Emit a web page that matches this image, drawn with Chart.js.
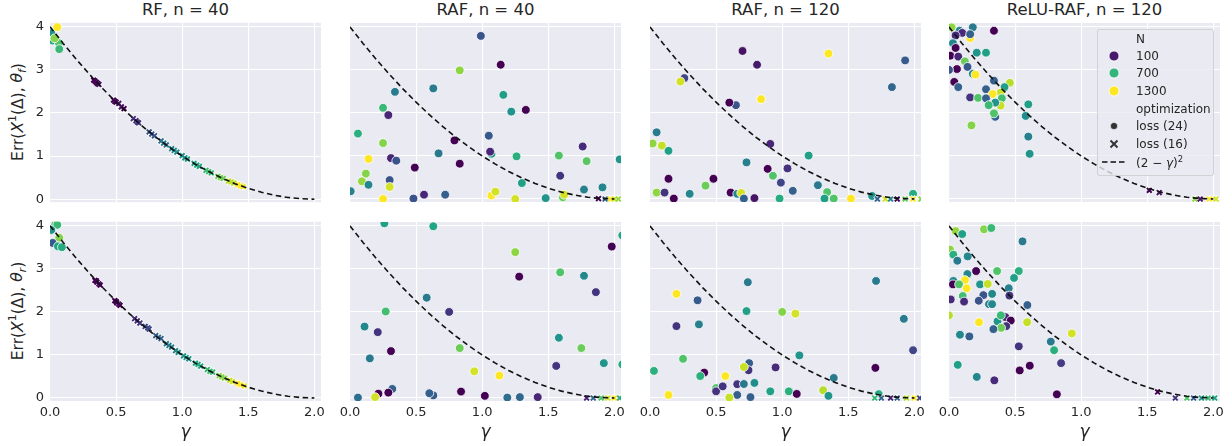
<!DOCTYPE html>
<html>
<head>
<meta charset="utf-8">
<script src="https://cdn.jsdelivr.net/npm/chart.js@4.4.1/dist/chart.umd.min.js"></script>
<style>
  body { margin: 0; width: 1232px; height: 446px; overflow: hidden; position: relative; background: #fff;
         font-family: "DejaVu Sans", sans-serif; color: #262626; }
  canvas { position: absolute; }
  .ttl { position: absolute; top: 0px; width: 271px; text-align: center; font-size: 16.5px; white-space: nowrap; }
  .ylab { position: absolute; font-size: 15.5px; white-space: nowrap; transform: translate(-50%, -50%) rotate(-90deg); }
  .ylab sup, .ylab sub { font-size: 70%; }
  #legend { position: absolute; left: 1097px; top: 29px; width: 117px; height: 147px; box-sizing: border-box;
            background: rgba(234, 234, 242, 0.8); border: 1px solid rgba(204, 204, 204, 0.8); border-radius: 3px; }
  .lt { position: absolute; font-size: 12px; white-space: nowrap; transform: translateY(-50%); }
  .lm { position: absolute; line-height: 0; }
  .lm svg { display: block; }
</style>
</head>
<body>

<div class="ttl" style="left:50px">RF, n = 40</div>
<div class="ttl" style="left:350px">RAF, n = 40</div>
<div class="ttl" style="left:650px">RAF, n = 120</div>
<div class="ttl" style="left:949px">ReLU-RAF, n = 120</div>

<div class="ylab" style="left:18px; top:112px">Err(<i>X</i><sup>1</sup>(Δ), <i>θ<sub>f</sub></i>)</div>
<div class="ylab" style="left:18px; top:311px">Err(<i>X</i><sup>1</sup>(Δ), <i>θ<sub>r</sub></i>)</div>

<script>
// (2 - gamma)^2 reference curve, tabulated
const gammaCurve = [0, 0.1, 0.2, 0.3, 0.4, 0.5, 0.6, 0.7, 0.8, 0.9, 1.0, 1.1, 1.2, 1.3, 1.4, 1.5, 1.6, 1.7, 1.8, 1.9, 2.0];
const errCurve = [4.00, 3.61, 3.24, 2.89, 2.56, 2.25, 1.96, 1.69, 1.44, 1.21, 1.00, 0.81, 0.64, 0.49, 0.36, 0.25, 0.16, 0.09, 0.04, 0.01, 0.00];

const xTicks = [0, 0.5, 1.0, 1.5, 2.0];
const yTicks = [0, 1, 2, 3, 4];
const legendN = [100, 700, 1300];

// points: [gamma, err, N]
// ---- top row: theta_f ----
const rfF_loss24 = [[0.01,3.85,500],[0.02,3.68,600],[0.068,3.62,800],[0.07,3.48,720],[0.035,3.73,950],[0.055,3.99,1300]];
const rfF_loss16 = [
  [0.33,2.76,65],[0.34,2.74,65],[0.35,2.71,65],[0.36,2.68,65],[0.37,2.66,90],
  [0.48,2.30,65],[0.49,2.27,65],[0.50,2.25,65],[0.52,2.22,90],[0.54,2.14,90],[0.56,2.10,65],
  [0.63,1.87,150],[0.65,1.82,130],[0.66,1.79,170],[0.67,1.77,150],
  [0.75,1.56,230],[0.77,1.51,250],[0.79,1.47,230],
  [0.84,1.35,330],[0.86,1.30,370],[0.88,1.26,330],
  [0.92,1.17,430],[0.94,1.13,440],[0.96,1.09,470],
  [1.00,1.01,500],[1.02,0.96,500],[1.04,0.93,530],
  [1.09,0.83,600],[1.11,0.79,640],[1.13,0.76,600],
  [1.18,0.67,720],[1.20,0.64,760],[1.22,0.61,720],
  [1.27,0.53,880],[1.29,0.50,950],[1.31,0.48,880],
  [1.35,0.42,1080],[1.37,0.40,1130],[1.39,0.37,1080],
  [1.42,0.34,1300],[1.44,0.31,1300],[1.46,0.29,1250]];

const raf40F_loss24 = [[0.99,3.79,230],[1.14,3.12,65],[0.83,2.99,980],[0.34,2.49,380],[0.63,2.57,380],[1.16,2.42,560],
  [1.22,2.03,500],[1.33,2.07,65],[0.25,2.12,720],[0.29,1.95,120],[0.06,1.52,660],[0.25,1.30,950],[0.79,1.36,65],
  [1.05,1.47,250],[1.07,1.05,550],[1.06,1.10,120],[0.67,1.06,370],[1.26,0.99,660],[1.58,1.01,800],[1.76,1.22,130],
  [1.79,0.88,830],[0.14,0.93,1300],[0.31,0.95,120],[0.35,0.89,230],[0.83,0.82,65],[0.49,0.73,65],[0.12,0.59,950],
  [0.09,0.41,1000],[0.14,0.33,440],[0.30,0.44,230],[0.30,0.28,1170],[1.59,0.54,150],[1.30,0.37,570],[0.005,0.18,400],
  [1.77,0.22,400],[1.91,0.27,430],[2.04,0.92,500],[0.56,0.10,120],[0.72,0.10,270],[0.48,0.01,230],[0.25,0.00,1300],
  [1.07,0.08,1300],[1.10,0.17,1170],[1.25,0.00,1170],[1.48,0.02,500],[1.61,0.04,880],[1.62,0.10,1170]];
const raf40F_loss16 = [[1.88,0.01,65],[1.93,0.0,300],[1.97,0.0,1300],[2.0,0.0,1170],[2.03,0.0,1000]];

const raf120F_loss24 = [[0.70,3.44,90],[0.81,3.12,100],[1.35,3.38,1300],[1.93,3.22,250],[1.83,2.60,300],[0.26,2.81,190],
  [0.23,2.73,1170],[0.84,2.32,1300],[0.65,2.18,230],[0.60,2.24,65],[0.05,1.55,380],[0.02,1.29,980],[0.09,1.24,1130],
  [0.14,1.12,570],[0.91,1.28,120],[1.20,1.01,570],[0.73,0.85,400],[0.89,0.70,65],[1.04,0.71,150],[0.93,0.54,800],
  [0.14,0.47,65],[0.48,0.47,65],[0.42,0.31,880],[0.99,0.38,190],[1.27,0.32,380],[1.08,0.19,270],[1.34,0.16,800],
  [0.05,0.15,980],[0.11,0.15,150],[0.30,0.12,440],[0.61,0.15,65],[0.66,0.12,440],[0.69,0.14,1170],[0.71,0.01,270],
  [0.79,0.02,90],[0.18,0.01,65],[0.98,0.01,640],[1.32,0.01,570],[1.39,0.01,800],[1.52,0.01,1300],[1.68,0.07,500],
  [1.99,0.12,640]];
const raf120F_loss16 = [[1.72,0.0,270],[1.78,0.0,1170],[1.82,0.0,440],[1.87,0.0,65],[1.93,0.0,880],[1.99,0.0,1300],[2.05,0.0,980]];

const reluF_loss24 = [[0.34,3.91,65],[0.18,3.99,380],[0.02,3.99,980],[0.08,3.91,440],[0.16,3.74,1300],[0.10,3.86,130],
  [0.16,3.83,270],[0.05,3.80,130],[0.03,3.62,440],[0.21,3.40,500],[0.28,3.40,570],[0.05,3.51,65],[0.01,3.33,65],
  [0.07,3.31,120],[0.12,3.20,880],[0.14,3.07,250],[0.06,3.02,65],[0.0,3.0,230],[0.18,2.91,440],[0.20,2.89,1300],
  [0.04,2.72,65],[0.07,2.60,270],[0.34,2.75,270],[0.46,2.70,1080],[0.42,2.60,570],[0.28,2.55,270],[0.39,2.47,1130],
  [0.33,2.44,1300],[0.16,2.36,150],[0.22,2.35,800],[0.28,2.34,270],[0.40,2.34,760],[0.39,2.17,1130],[0.35,2.24,500],
  [0.30,2.18,720],[0.35,1.91,270],[0.34,1.99,800],[0.17,1.71,950],[0.60,2.20,570],[0.58,1.93,470],[0.60,1.45,400],
  [0.61,1.05,500]];
const reluF_loss16 = [[1.515,0.20,65],[1.59,0.15,90],[1.86,0.0,980],[1.90,0.0,90],[1.97,0.0,1300],[2.02,0.0,1170]];

// ---- bottom row: theta_r ----
const rfR_loss24 = [[0.04,4.03,800],[0.055,4.02,720],[0.01,3.90,500],[0.07,3.72,950],[0.02,3.60,250],[0.06,3.52,600],[0.09,3.50,640]];
const rfR_loss16 = [
  [0.34,2.73,65],[0.35,2.72,65],[0.355,2.69,65],[0.37,2.65,90],[0.38,2.62,65],
  [0.49,2.26,65],[0.50,2.24,65],[0.505,2.21,65],[0.52,2.18,90],[0.53,2.15,65],
  [0.64,1.84,150],[0.66,1.79,130],[0.68,1.74,150],
  [0.72,1.66,190],[0.74,1.63,230],[0.75,1.60,190],
  [0.80,1.45,270],[0.82,1.41,300],[0.84,1.38,270],
  [0.88,1.26,380],[0.90,1.22,400],[0.92,1.18,380],
  [0.95,1.10,440],[0.97,1.06,470],
  [1.01,0.98,500],[1.03,0.94,530],[1.05,0.91,500],
  [1.10,0.81,600],[1.12,0.78,640],[1.14,0.74,620],
  [1.19,0.66,720],[1.21,0.62,760],[1.23,0.60,720],
  [1.28,0.52,950],[1.30,0.49,980],[1.32,0.46,950],
  [1.36,0.41,1130],[1.38,0.38,1170],
  [1.42,0.34,1300],[1.44,0.31,1300],[1.47,0.28,1250]];

const raf40R_loss24 = [[0.26,4.06,570],[0.63,3.99,600],[1.25,3.39,980],[1.98,3.52,65],[2.06,3.78,600],[1.28,2.82,65],
  [1.59,2.92,800],[1.77,2.84,440],[1.86,2.46,150],[0.58,2.33,380],[0.27,2.01,760],[0.75,2.00,150],[0.11,1.66,440],
  [0.21,1.53,150],[1.58,1.40,500],[0.83,1.16,880],[1.75,1.16,880],[0.31,1.09,65],[0.15,0.92,380],[1.92,0.81,500],
  [2.06,0.78,640],[1.56,0.745,150],[0.94,0.62,1170],[1.13,0.52,1300],[0.32,0.21,270],[0.29,0.125,65],[0.215,0.10,65],
  [0.63,0.06,250],[0.60,0.11,270],[0.84,0.15,65],[0.06,0.01,330],[0.19,0.02,1170],[1.02,0.05,65],[1.19,0.01,330],
  [1.285,0.02,300],[1.42,0.02,120]];
const raf40R_loss16 = [[1.79,0.0,120],[1.84,0.0,300],[1.90,0.0,800],[1.95,0.0,1170],[2.0,0.0,1300],[2.04,0.0,640]];

const raf120R_loss24 = [[0.74,2.69,380],[1.71,2.72,380],[0.20,2.42,1300],[0.36,2.27,250],[0.73,2.02,570],[1.00,2.00,950],
  [1.10,1.96,1170],[1.92,1.84,380],[0.20,1.67,150],[0.37,1.71,400],[1.99,1.11,190],[1.13,0.99,500],[0.25,0.91,800],
  [0.75,0.81,270],[0.745,0.645,150],[0.71,0.72,1130],[0.95,0.71,130],[1.705,0.70,65],[0.03,0.63,660],[0.41,0.59,65],
  [0.38,0.51,660],[0.57,0.51,1300],[1.39,0.465,380],[0.50,0.23,800],[0.50,0.155,150],[0.55,0.27,150],[0.66,0.32,150],
  [0.71,0.325,380],[0.79,0.35,470],[0.91,0.155,570],[1.05,0.155,660],[1.11,0.095,65],[1.31,0.18,1080],[0.14,0.07,1300],
  [0.66,0.07,270],[0.60,0.01,1130],[0.76,0.02,270],[1.35,0.05,500],[1.73,0.09,640]];
const raf120R_loss16 = [[1.70,0.0,720],[1.75,0.0,300],[1.82,0.0,120],[1.87,0.0,300],[1.94,0.0,1080],[2.0,0.0,1300],[2.04,0.0,190]];

const reluR_loss24 = [[0.05,3.88,1000],[0.10,3.81,570],[0.265,3.92,950],[0.32,3.95,720],[0.556,3.64,380],[0.008,3.45,980],
  [0.033,3.33,660],[0.063,3.19,380],[0.141,3.29,440],[0.205,2.95,65],[0.139,2.88,440],[0.364,2.95,800],[0.528,2.95,660],
  [0.492,2.79,570],[0.033,2.72,440],[0.121,2.74,1300],[0.03,2.64,65],[0.076,2.64,800],[0.134,2.55,1300],[0.235,2.64,500],
  [0.293,2.65,1130],[0.452,2.55,400],[0.104,2.37,760],[0.26,2.39,230],[0.326,2.42,440],[0.457,2.38,150],[0.013,2.29,130],
  [0.114,2.24,130],[0.225,2.26,230],[0.303,2.18,380],[0.326,2.18,440],[0.593,2.16,270],[0.0,1.92,1080],[0.227,1.76,1300],
  [0.427,1.88,130],[0.467,1.80,65],[0.433,1.67,150],[0.367,1.78,500],[0.392,1.92,720],[0.394,1.63,880],[0.336,1.60,270],
  [0.591,1.76,1130],[0.929,1.50,1170],[0.083,1.47,440],[0.154,1.43,270],[0.77,1.31,380],[0.795,1.11,660],[0.528,1.20,150],
  [0.848,0.81,170],[0.066,0.77,570],[0.611,0.75,65],[0.535,0.64,65],[0.21,0.49,440],[0.343,0.41,130],[0.816,0.086,65]];
const reluR_loss16 = [[1.578,0.14,65],[1.712,0.0,150],[1.80,0.0,800],[1.85,0.0,250],[1.91,0.0,500],[1.96,0.0,720],[2.01,0.0,600]];

// viridis, sampled at 0, 0.1, ..., 1
const viridis = ['#440154','#482475','#414487','#355f8d','#2a788e','#21918c','#22a884','#44bf70','#7ad151','#bddf26','#fde725'];
function hueColor(n) {
  let t = (Math.sqrt(n) - 8.04) / 28.02;
  t = Math.max(0, Math.min(1, t)) * 10;
  const i = Math.min(9, Math.floor(t)), f = t - i;
  const a = viridis[i], b = viridis[i + 1];
  const c = k => Math.round(parseInt(a.substr(k, 2), 16) * (1 - f) + parseInt(b.substr(k, 2), 16) * f);
  return 'rgb(' + c(1) + ',' + c(3) + ',' + c(5) + ')';
}

const FONT = '"DejaVu Sans", sans-serif';
const TXT = '#262626';
const colLeft = [50, 350, 650, 949];
const rowTop = [23, 222];
const PW = 271, PH = 179, YW = 30, PADR = 14, PADT = 10;

const panels = [
  [0, 0, rfF_loss24, rfF_loss16], [0, 1, raf40F_loss24, raf40F_loss16],
  [0, 2, raf120F_loss24, raf120F_loss16], [0, 3, reluF_loss24, reluF_loss16],
  [1, 0, rfR_loss24, rfR_loss16], [1, 1, raf40R_loss24, raf40R_loss16],
  [1, 2, raf120R_loss24, raf120R_loss16], [1, 3, reluR_loss24, reluR_loss16]
];

const bgPlugin = {
  id: 'bg',
  beforeDraw(chart) {
    const a = chart.chartArea, ctx = chart.ctx;
    ctx.save();
    ctx.fillStyle = '#eaeaf2';
    ctx.fillRect(a.left, a.top, a.right - a.left, a.bottom - a.top);
    ctx.restore();
  }
};

const pts = arr => arr.map(p => ({ x: p[0], y: p[1] }));

panels.forEach(([row, col, loss24, loss16]) => {
  const bottom = row === 1, first = col === 0;
  const xh = bottom ? 42 : 0;
  const padB = bottom ? 0 : 10;
  const cv = document.createElement('canvas');
  const w = YW + PW + PADR, h = PADT + PH + xh + padB;
  cv.width = w; cv.height = h;
  cv.style.left = (colLeft[col] - YW) + 'px';
  cv.style.top = (rowTop[row] - PADT) + 'px';
  cv.style.width = w + 'px'; cv.style.height = h + 'px';
  document.body.appendChild(cv);

  const chart = new Chart(cv, {
    type: 'scatter',
    data: {
      datasets: [
        { data: gammaCurve.map((g, i) => ({ x: g, y: errCurve[i] })), showLine: true, borderColor: '#111',
          borderWidth: 1.6, borderDash: [5.5, 3.5], pointRadius: 0, tension: 0, clip: 0 },
        { data: pts(loss16), pointStyle: 'crossRot', pointRadius: 3.4, pointBorderWidth: 2,
          pointBorderColor: loss16.map(p => hueColor(p[2])), clip: 0 },
        { data: pts(loss16), pointStyle: 'crossRot', pointRadius: 3.9, pointBorderWidth: 3.6,
          pointBorderColor: '#fff', clip: 0 },
        { data: pts(loss24), pointStyle: 'circle', pointRadius: 4.4, pointBorderWidth: 0.8,
          pointBackgroundColor: loss24.map(p => hueColor(p[2])), pointBorderColor: '#fff', clip: 0 }
      ]
    },
    options: {
      responsive: false, maintainAspectRatio: false, animation: false, events: [],
      layout: { padding: { left: 0, right: PADR, top: PADT, bottom: padB } },
      plugins: { legend: { display: false }, tooltip: { enabled: false } },
      scales: {
        x: {
          type: 'linear', min: 0, max: 2.05,
          afterBuildTicks: s => { s.ticks = xTicks.map(v => ({ value: v })); },
          afterFit: s => { s.height = xh; },
          grid: { color: '#fff', lineWidth: 1.1, drawTicks: false },
          border: { display: false },
          ticks: { display: bottom, padding: 4, color: TXT, font: { family: FONT, size: 13 },
                   callback: v => v.toFixed(1) },
          title: { display: bottom, text: 'γ', color: TXT, padding: { top: 0, bottom: 0 },
                   font: { family: FONT, size: 17, style: 'italic' } }
        },
        y: {
          type: 'linear', min: -0.07, max: 4.09,
          afterBuildTicks: s => { s.ticks = yTicks.map(v => ({ value: v })); },
          afterFit: s => { s.width = YW; },
          grid: { color: '#fff', lineWidth: 1.1, drawTicks: false },
          border: { display: false },
          ticks: { display: first, padding: 6, color: TXT, font: { family: FONT, size: 13 },
                   callback: v => String(v) }
        }
      }
    },
    plugins: [bgPlugin]
  });

  // make sure the plot area lands exactly on the panel box
  const a = chart.chartArea;
  const dw = PW - (a.right - a.left), dh = PH - (a.bottom - a.top);
  if (Math.abs(dw) > 0.3 || Math.abs(dh) > 0.3) chart.resize(Math.round(w + dw), Math.round(h + dh));
  const b = chart.chartArea;
  cv.style.left = (colLeft[col] - b.left) + 'px';
  cv.style.top = (rowTop[row] - b.top) + 'px';
});

// legend (HTML overlay inside the last top panel)
const lg = document.createElement('div');
lg.id = 'legend';
document.body.appendChild(lg);
const rowsY = [39, 56, 73, 91, 109, 126, 144, 162];
const tx = 1136, mx = 1114;
function ltext(y, html) {
  const d = document.createElement('div');
  d.className = 'lt'; d.style.left = tx + 'px'; d.style.top = y + 'px'; d.innerHTML = html;
  document.body.appendChild(d);
}
function lmark(y, svg, wpx, hpx) {
  const d = document.createElement('div');
  d.className = 'lm';
  d.style.left = (mx - wpx / 2) + 'px'; d.style.top = (y - hpx / 2) + 'px';
  d.innerHTML = '<svg width="' + wpx + '" height="' + hpx + '" viewBox="0 0 ' + wpx + ' ' + hpx + '">' + svg + '</svg>';
  document.body.appendChild(d);
}
ltext(rowsY[0], 'N');
legendN.forEach((n, i) => {
  ltext(rowsY[i + 1], String(n));
  lmark(rowsY[i + 1], '<circle cx="6" cy="6" r="5" fill="' + hueColor(n) + '" stroke="#fff" stroke-width="0.8"/>', 12, 12);
});
ltext(rowsY[4], 'optimization');
ltext(rowsY[5], 'loss (24)');
lmark(rowsY[5], '<circle cx="5" cy="5" r="3.6" fill="#333" stroke="#fff" stroke-width="0.6"/>', 10, 10);
ltext(rowsY[6], 'loss (16)');
lmark(rowsY[6], '<path d="M1.5 1.5 L8.5 8.5 M8.5 1.5 L1.5 8.5" stroke="#333" stroke-width="2"/>', 10, 10);
ltext(rowsY[7], '(2 − <i>γ</i>)<sup style="font-size:70%">2</sup>');
lmark(rowsY[7], '<path d="M0 4 H24" fill="none" stroke="#111" stroke-width="1.6" stroke-dasharray="5.5 3"/>', 24, 8);
</script>
</body>
</html>
